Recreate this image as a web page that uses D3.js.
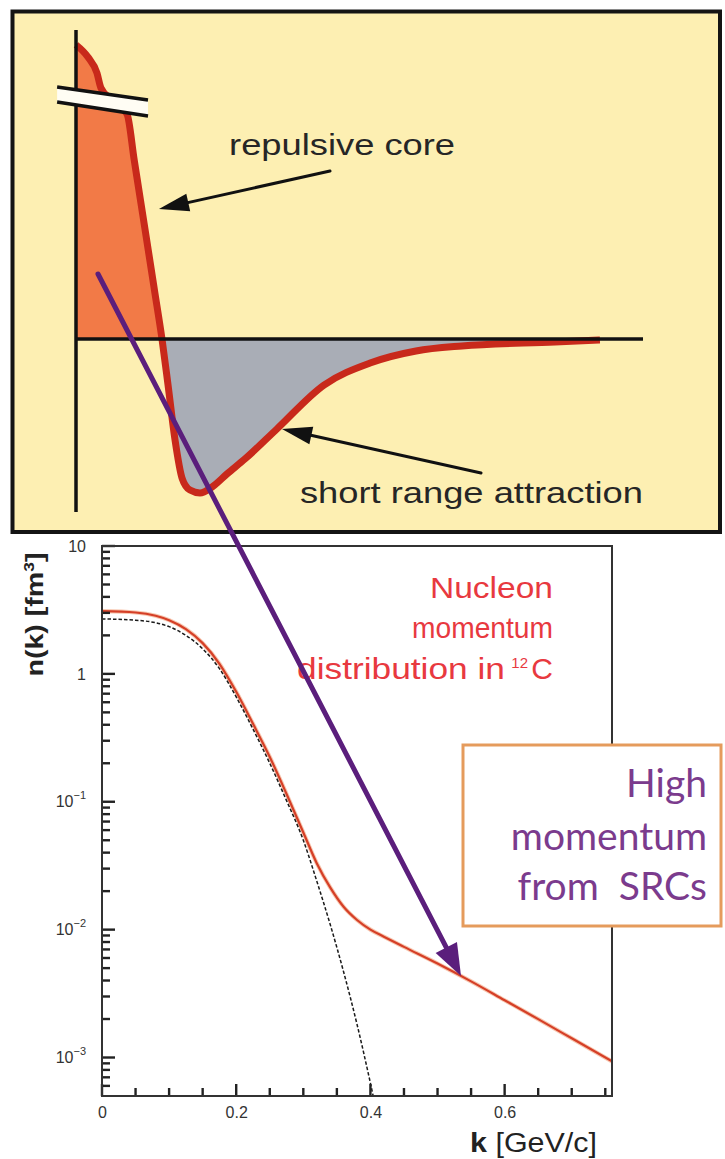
<!DOCTYPE html>
<html>
<head>
<meta charset="utf-8">
<script src="https://cdn.jsdelivr.net/npm/d3@7"></script>
<style>
  html, body { margin: 0; padding: 0; background: #ffffff; }
  svg { display: block; }
</style>
</head>
<body>
<svg id="fig" width="725" height="1159"></svg>
<script>
// ---------------- data ----------------
// NN potential (schematic), r in fm, V in units of |V_min|
const rPot = [0, 0.063, 0.111, 0.132, 0.19, 0.27, 0.308, 0.341, 0.374, 0.415, 0.455,
              0.487, 0.524, 0.561, 0.603, 0.656, 0.72, 0.8, 0.894, 1.063, 1.312, 1.556,
              1.799, 2.042, 2.534, 2.772];
const vPot = [1.91, 1.831, 1.727, 1.63, 1.552, 1.461, 1.162, 0.903, 0.643, 0.318, 0,
              -0.299, -0.656, -0.903, -0.981, -1.0, -0.961, -0.875, -0.779, -0.584, -0.299, -0.156,
              -0.078, -0.045, -0.019, -0.006];

// nucleon momentum distribution in 12C, k in GeV/c, n(k) in fm^3
const kTotal = [0, 0.05, 0.08, 0.1, 0.125, 0.15, 0.175, 0.2, 0.225, 0.25, 0.275, 0.3,
                0.32, 0.34, 0.36, 0.38, 0.4, 0.42, 0.45, 0.5, 0.55, 0.6, 0.65, 0.7, 0.76];
const nTotal = [3.09, 3.02, 2.85, 2.63, 2.24, 1.74, 1.2, 0.724, 0.407, 0.224, 0.115, 0.0575,
                0.0331, 0.0214, 0.0151, 0.0119, 0.01, 0.00881, 0.00733, 0.00543, 0.00394,
                0.002805, 0.001995, 0.001413, 0.000933];

// mean-field only (dashed)
const kMeanField = [0, 0.05, 0.08, 0.1, 0.125, 0.15, 0.175, 0.2, 0.225, 0.25, 0.275,
                    0.3, 0.32, 0.34, 0.36, 0.38, 0.4, 0.42];
const nMeanField = [2.69, 2.63, 2.51, 2.34, 2.0, 1.57, 1.1, 0.66, 0.37, 0.2, 0.102,
                    0.05, 0.024, 0.011, 0.00468, 0.00182, 0.00063, 0.0002];

const xTickValues = [0, 0.2, 0.4, 0.6];
const xTickLabels = ["0", "0.2", "0.4", "0.6"];
const yTickValues = [10, 1, 0.1, 0.01, 0.001];
const yTickLabels = [["10", ""], ["1", ""], ["10", "\u22121"], ["10", "\u22122"], ["10", "\u22123"]];

// momentum where the SRC arrow lands on the curve
const srcArrowK = 0.535;

// ---------------- figure ----------------
const W = 725, H = 1159;
const svg = d3.select("#fig");
const defs = svg.append("defs");
const SANS = "'Liberation Sans', Arial, Helvetica, sans-serif";

function arrow(g, x1, y1, x2, y2, color, width, headLen, headHalf) {
  const dx = x2 - x1, dy = y2 - y1, L = Math.hypot(dx, dy);
  const ux = dx / L, uy = dy / L;
  const bx = x2 - ux * headLen, by = y2 - uy * headLen;
  g.append("line")
    .attr("x1", x1).attr("y1", y1)
    .attr("x2", x2 - ux * headLen * 0.6).attr("y2", y2 - uy * headLen * 0.6)
    .attr("stroke", color).attr("stroke-width", width).attr("stroke-linecap", "round");
  g.append("path")
    .attr("d", `M${x2},${y2}L${bx - uy * headHalf},${by + ux * headHalf}L${bx + uy * headHalf},${by - ux * headHalf}Z`)
    .attr("fill", color);
}

// ======== lower panel: momentum distribution ========
const plot = { left: 102, right: 612, top: 546, bottom: 1096 };
const x = d3.scaleLinear().domain([0, 0.76]).range([plot.left, plot.right]);
const y = d3.scaleLog().domain([5e-4, 10]).range([plot.bottom, plot.top]);

const nkPanel = svg.append("g");
nkPanel.append("rect")
  .attr("x", plot.left).attr("y", plot.top)
  .attr("width", plot.right - plot.left).attr("height", plot.bottom - plot.top)
  .attr("fill", "#ffffff");

defs.append("clipPath").attr("id", "plotClip").append("rect")
  .attr("x", plot.left).attr("y", plot.top)
  .attr("width", plot.right - plot.left).attr("height", plot.bottom - plot.top);

const nLine = d3.line().x(d => x(d.k)).y(d => y(d.n)).curve(d3.curveMonotoneX);
const totalPts = kTotal.map((k, i) => ({ k, n: nTotal[i] }));
const mfPts = kMeanField.map((k, i) => ({ k, n: nMeanField[i] }));

const curves = nkPanel.append("g").attr("clip-path", "url(#plotClip)");
curves.append("path").datum(totalPts).attr("d", nLine)
  .attr("fill", "none").attr("stroke", "#f2a27c").attr("stroke-width", 4.2).attr("stroke-opacity", 0.6);
curves.append("path").datum(totalPts).attr("d", nLine)
  .attr("fill", "none").attr("stroke", "#d53f27").attr("stroke-width", 2.2);
curves.append("path").datum(mfPts).attr("d", nLine)
  .attr("fill", "none").attr("stroke", "#1a1a1a").attr("stroke-width", 1.5)
  .attr("stroke-dasharray", "3.5,2");

// tick positions
const yMinor = [];
for (let e = -4; e <= 0; e++) for (let m = 2; m <= 9; m++) {
  const v = m * Math.pow(10, e);
  if (v > 5e-4 && v < 10) yMinor.push(v);
}
const xMinor = d3.range(0, 16).map(i => +(i * 0.05).toFixed(2)).filter(v => xTickValues.indexOf(v) < 0);

// inward ticks
const ticks = nkPanel.append("g").attr("stroke", "#222").attr("stroke-width", 2.4);
ticks.selectAll("line.ymin").data(yMinor).join("line").attr("class", "ymin")
  .attr("x1", plot.left).attr("x2", plot.left + 8).attr("y1", d => y(d)).attr("y2", d => y(d));
ticks.selectAll("line.ymaj").data(yTickValues).join("line").attr("class", "ymaj")
  .attr("x1", plot.left).attr("x2", plot.left + 13).attr("y1", d => y(d)).attr("y2", d => y(d));
ticks.selectAll("line.xmin").data(xMinor).join("line").attr("class", "xmin")
  .attr("x1", d => x(d)).attr("x2", d => x(d)).attr("y1", plot.bottom).attr("y2", plot.bottom - 8);
ticks.selectAll("line.xmaj").data(xTickValues).join("line").attr("class", "xmaj")
  .attr("x1", d => x(d)).attr("x2", d => x(d)).attr("y1", plot.bottom).attr("y2", plot.bottom - 12);

// tick labels via d3 axes
const yAx = nkPanel.append("g").attr("transform", `translate(${plot.left},0)`)
  .call(d3.axisLeft(y).tickValues(yTickValues).tickSize(0).tickPadding(16).tickFormat(""));
yAx.select(".domain").remove();
yAx.selectAll(".tick text").each(function (d, i) {
  const t = d3.select(this)
    .attr("font-family", SANS).attr("font-size", 16).attr("fill", "#333");
  const lab = yTickLabels[i];
  t.append("tspan").text(lab[0]);
  if (lab[1]) {
    t.append("tspan").text(lab[1]).attr("font-size", 11).attr("dy", -8);
  }
});

const xAx = nkPanel.append("g").attr("transform", `translate(0,${plot.bottom})`)
  .call(d3.axisBottom(x).tickValues(xTickValues).tickSize(0).tickPadding(11)
    .tickFormat((d, i) => xTickLabels[i]));
xAx.select(".domain").remove();
xAx.selectAll("text").attr("font-family", SANS).attr("font-size", 16).attr("fill", "#333");

// frame
nkPanel.append("rect")
  .attr("x", plot.left).attr("y", plot.top)
  .attr("width", plot.right - plot.left).attr("height", plot.bottom - plot.top)
  .attr("fill", "none").attr("stroke", "#333").attr("stroke-width", 2);

// axis titles
nkPanel.append("text")
  .attr("transform", `translate(43,${(552 + 677) / 2}) rotate(-90)`)
  .attr("text-anchor", "middle").attr("font-family", SANS).attr("font-weight", "bold")
  .attr("font-size", 23).attr("fill", "#222")
  .attr("textLength", 124).attr("lengthAdjust", "spacingAndGlyphs")
  .call(t => { t.append("tspan").text("n(k) [fm"); t.append("tspan").text("3").attr("font-size", 14).attr("dy", -9); t.append("tspan").text("]").attr("dy", 9); });

nkPanel.append("text")
  .attr("x", 597).attr("y", 1152).attr("text-anchor", "end")
  .attr("font-family", SANS).attr("font-size", 27).attr("fill", "#222")
  .attr("textLength", 127).attr("lengthAdjust", "spacingAndGlyphs")
  .call(t => { t.append("tspan").text("k").attr("font-weight", "bold"); t.append("tspan").text(" [GeV/c]"); });

// panel caption
const capColor = "#e8393f";
const cap = nkPanel.append("g").attr("font-family", SANS).attr("font-size", 30).attr("fill", capColor).attr("text-anchor", "end");
cap.append("text").attr("x", 553).attr("y", 598).attr("textLength", 123).attr("lengthAdjust", "spacingAndGlyphs").text("Nucleon");
cap.append("text").attr("x", 553).attr("y", 638).attr("textLength", 141).attr("lengthAdjust", "spacingAndGlyphs").text("momentum");
cap.append("text").attr("x", 505).attr("y", 679).attr("textLength", 208).attr("lengthAdjust", "spacingAndGlyphs").text("distribution in");
cap.append("text").attr("x", 528).attr("y", 668).attr("font-size", 15).text("12");
cap.append("text").attr("x", 553).attr("y", 679).text("C");

// SRC box
const box = svg.append("g");
box.append("rect").attr("x", 463).attr("y", 745).attr("width", 258).attr("height", 181)
  .attr("fill", "#ffffff").attr("stroke", "#e59b5c").attr("stroke-width", 3);
const boxText = box.append("g").attr("font-family", "Lato, 'Open Sans', sans-serif").attr("font-size", 39)
  .attr("fill", "#7b3b8d").attr("text-anchor", "end");
boxText.append("text").attr("x", 707).attr("y", 797).text("High");
boxText.append("text").attr("x", 707).attr("y", 850).text("momentum");
boxText.append("text").attr("x", 707).attr("y", 900).attr("xml:space", "preserve").text("from  SRCs");

// ======== upper panel: NN potential ========
const rS = d3.scaleLinear().domain([0, 3]).range([76, 643]);
const vS = d3.scaleLinear().domain([-1, 0]).range([493, 339]);
const potPanel = svg.append("g");

potPanel.append("rect").attr("x", 12.5).attr("y", 11.5).attr("width", 707.5).attr("height", 520.5)
  .attr("fill", "#fdefb2").attr("stroke", "#141414").attr("stroke-width", 4);

defs.append("clipPath").attr("id", "aboveZero").append("rect")
  .attr("x", 0).attr("y", 0).attr("width", W).attr("height", vS(0));
defs.append("clipPath").attr("id", "belowZero").append("rect")
  .attr("x", 0).attr("y", vS(0)).attr("width", W).attr("height", H - vS(0));

const potPts = rPot.map((r, i) => ({ r, v: vPot[i] }));
const potArea = d3.area().x(d => rS(d.r)).y0(vS(0)).y1(d => vS(d.v)).curve(d3.curveMonotoneX);
const potLine = d3.line().x(d => rS(d.r)).y(d => vS(d.v)).curve(d3.curveMonotoneX);

potPanel.append("path").datum(potPts).attr("d", potArea).attr("fill", "#f27a47").attr("clip-path", "url(#aboveZero)");
potPanel.append("path").datum(potPts).attr("d", potArea).attr("fill", "#a9adb6").attr("clip-path", "url(#belowZero)");
potPanel.append("path").datum(potPts).attr("d", potLine)
  .attr("fill", "none").attr("stroke", "#c8291b").attr("stroke-width", 7).attr("stroke-linejoin", "round");

// axes of the potential sketch
potPanel.append("line").attr("x1", rS(0)).attr("x2", rS(0)).attr("y1", vS(2.006)).attr("y2", vS(-1.123))
  .attr("stroke", "#111").attr("stroke-width", 3.5);
potPanel.append("line").attr("x1", rS(0)).attr("x2", rS(3)).attr("y1", vS(0)).attr("y2", vS(0))
  .attr("stroke", "#111").attr("stroke-width", 3.5);

// axis break
const brR = [-0.1, 0.381], brUp = [1.636, 1.552], brLo = [1.539, 1.448];
potPanel.append("path")
  .attr("d", `M${rS(brR[0])},${vS(brUp[0])}L${rS(brR[1])},${vS(brUp[1])}L${rS(brR[1])},${vS(brLo[1])}L${rS(brR[0])},${vS(brLo[0])}Z`)
  .attr("fill", "#fffdf4");
[brUp, brLo].forEach(v => potPanel.append("line")
  .attr("x1", rS(brR[0])).attr("y1", vS(v[0])).attr("x2", rS(brR[1])).attr("y2", vS(v[1]))
  .attr("stroke", "#111").attr("stroke-width", 3.5));

// annotations
arrow(potPanel, rS(1.344), vS(1.091), rS(0.439), vS(0.844), "#111", 3, 30, 9);
arrow(potPanel, rS(2.143), vS(-0.870), rS(1.09), vS(-0.584), "#111", 3, 30, 9);

potPanel.append("text").attr("x", rS(0.81)).attr("y", vS(1.195))
  .attr("font-family", SANS).attr("font-size", 30).attr("fill", "#262626")
  .attr("textLength", 226).attr("lengthAdjust", "spacingAndGlyphs").text("repulsive core");
potPanel.append("text").attr("x", rS(1.185)).attr("y", vS(-1.065))
  .attr("font-family", SANS).attr("font-size", 30).attr("fill", "#262626")
  .attr("textLength", 343).attr("lengthAdjust", "spacingAndGlyphs").text("short range attraction");

// ======== arrow linking the short-range part to the high-momentum tail ========
function nAt(k) {
  const i = Math.max(1, d3.bisectLeft(kTotal, k));
  const t = (k - kTotal[i - 1]) / (kTotal[i] - kTotal[i - 1]);
  return Math.pow(10, Math.log10(nTotal[i - 1]) * (1 - t) + Math.log10(nTotal[i]) * t);
}
arrow(svg.append("g"), rS(0.1164), vS(0.422), x(srcArrowK), y(nAt(srcArrowK)), "#5b1e7c", 5, 32, 12);
</script>
</body>
</html>
